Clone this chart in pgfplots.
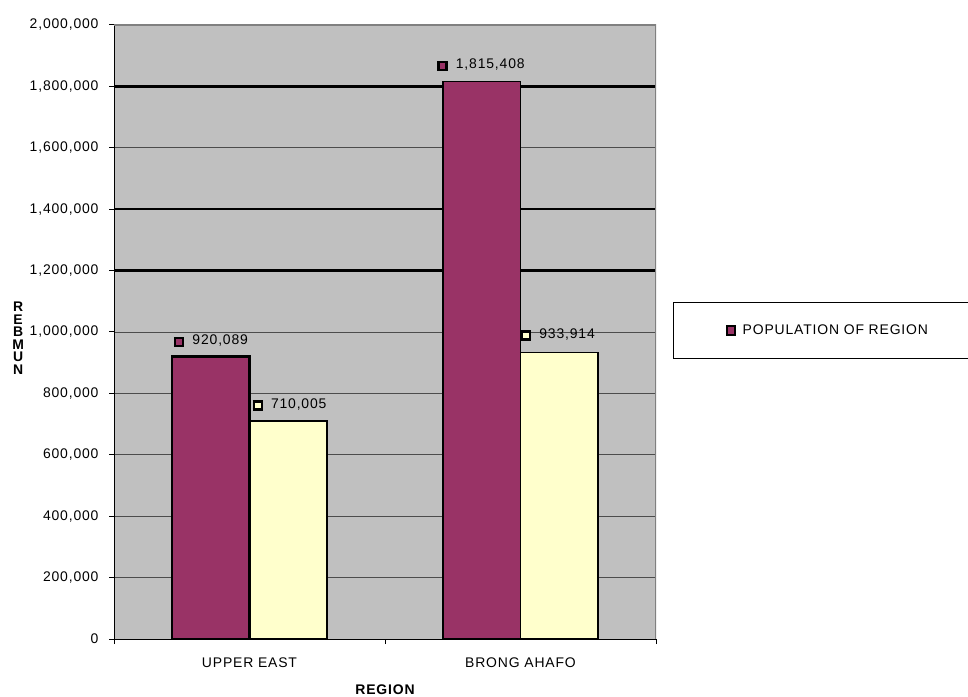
\documentclass[border=0pt]{standalone}
\usepackage{pgfplots}
\pgfplotsset{compat=1.18}
\usepackage{fontspec}
\setmainfont{Liberation Sans}[LetterSpace=6]
\definecolor{barpurple}{HTML}{993366}
\definecolor{baryellow}{HTML}{FFFFCC}
\definecolor{plotgrey}{HTML}{C0C0C0}
\definecolor{framegrey}{HTML}{808080}
\newcommand{\mk}[1]{{\setlength{\fboxrule}{2.5bp}\setlength{\fboxsep}{0pt}\fcolorbox{black}{#1}{\rule{0pt}{5.5bp}\rule{5.5bp}{0pt}}}}
\newcommand{\chartfont}{\fontsize{14}{16}\selectfont}
\begin{document}
\begin{tikzpicture}
\useasboundingbox (0,0) rectangle (968bp,697bp);
\begin{axis}[
  at={(114bp,58bp)}, anchor=south west,
  scale only axis, width=542bp, height=614bp,
  xmin=-0.5, xmax=1.5, ymin=0, ymax=2000000,
  axis lines=left, axis line style={-, black, line width=1bp},
  axis background/.style={fill=plotgrey},
  bar width=0.286,
  xtick={-0.5,0.5,1.5}, xticklabels={},
  extra x ticks={0,1}, extra x tick labels={UPPER EAST,BRONG AHAFO},
  extra x tick style={major tick length=0pt, tick label style={yshift=-15bp}},
  ytick distance=200000,
  scaled y ticks=false,
  yticklabel style={xshift=-7bp, /pgf/number format/.cd, fixed, precision=0, 1000 sep={,}, assume math mode=true},
  tick label style={font=\chartfont},
  tick align=outside, major tick length=5bp,
  tick style={black, line width=1bp},
  ymajorgrids,
  major grid style={black!70, line width=0.8bp},
  extra y ticks={1200000,1400000,1800000}, extra y tick labels={},
  extra y tick style={grid=major, major grid style={black, line width=2.5bp}},
  xlabel={REGION},
  xlabel style={font=\bfseries\chartfont, at={(axis description cs:0.5,0)}, anchor=center, yshift=-51bp},
  ylabel={R\\E\\B\\M\\U\\N},
  ylabel style={rotate=-90, align=center, font=\bfseries\fontsize{14}{12.5}\selectfont, at={(axis description cs:-0.177,0.49)}, anchor=center},
  legend style={at={(axis description cs:1.0314,0.5489)}, anchor=north west, draw=black, fill=white, inner xsep=53bp, inner ysep=20.5bp, font=\chartfont},
  nodes near coords style={anchor=base west, inner sep=0pt, font=\chartfont},
]
\addplot[ybar, bar shift=0pt, draw=black, line width=2.5bp, fill=barpurple,
  point meta=explicit symbolic,
  nodes near coords={\mk{barpurple}\hspace{8bp}\pgfplotspointmeta},
  every node near coord/.append style={xshift=-38bp, yshift=12bp},
  legend image code/.code={\draw[black, fill=barpurple, line width=1.5bp] (0bp,-4.5bp) rectangle (8bp,4.5bp);}]
  coordinates {(-0.143,920089) [920,089]};
\addlegendentry{\hspace{5bp}POPULATION OF REGION\hspace{30bp}}
\addplot[ybar, bar shift=0pt, draw=black, line width=2.5bp, fill=baryellow, forget plot,
  point meta=explicit symbolic,
  nodes near coords={\mk{baryellow}\hspace{8bp}\pgfplotspointmeta},
  every node near coord/.append style={xshift=-37bp, yshift=13bp}]
  coordinates {(0.143,710005) [710,005]};
\addplot[ybar, bar shift=0pt, draw=black, line width=1.3bp, fill=barpurple, forget plot,
  point meta=explicit symbolic,
  nodes near coords={\mk{barpurple}\hspace{8bp}\pgfplotspointmeta},
  every node near coord/.append style={xshift=-45bp, yshift=13bp}]
  coordinates {(0.857,1815408) [1,815,408]};
\addplot[ybar, bar shift=0pt, draw=black, line width=1.3bp, fill=baryellow, forget plot,
  point meta=explicit symbolic,
  nodes near coords={\mk{baryellow}\hspace{8bp}\pgfplotspointmeta},
  every node near coord/.append style={xshift=-39bp, yshift=14bp}]
  coordinates {(1.143,933914) [933,914]};
\draw[framegrey, line width=2bp] (rel axis cs:0,1) -- (rel axis cs:1,1) -- (rel axis cs:1,0);
\end{axis}
\end{tikzpicture}
\end{document}
